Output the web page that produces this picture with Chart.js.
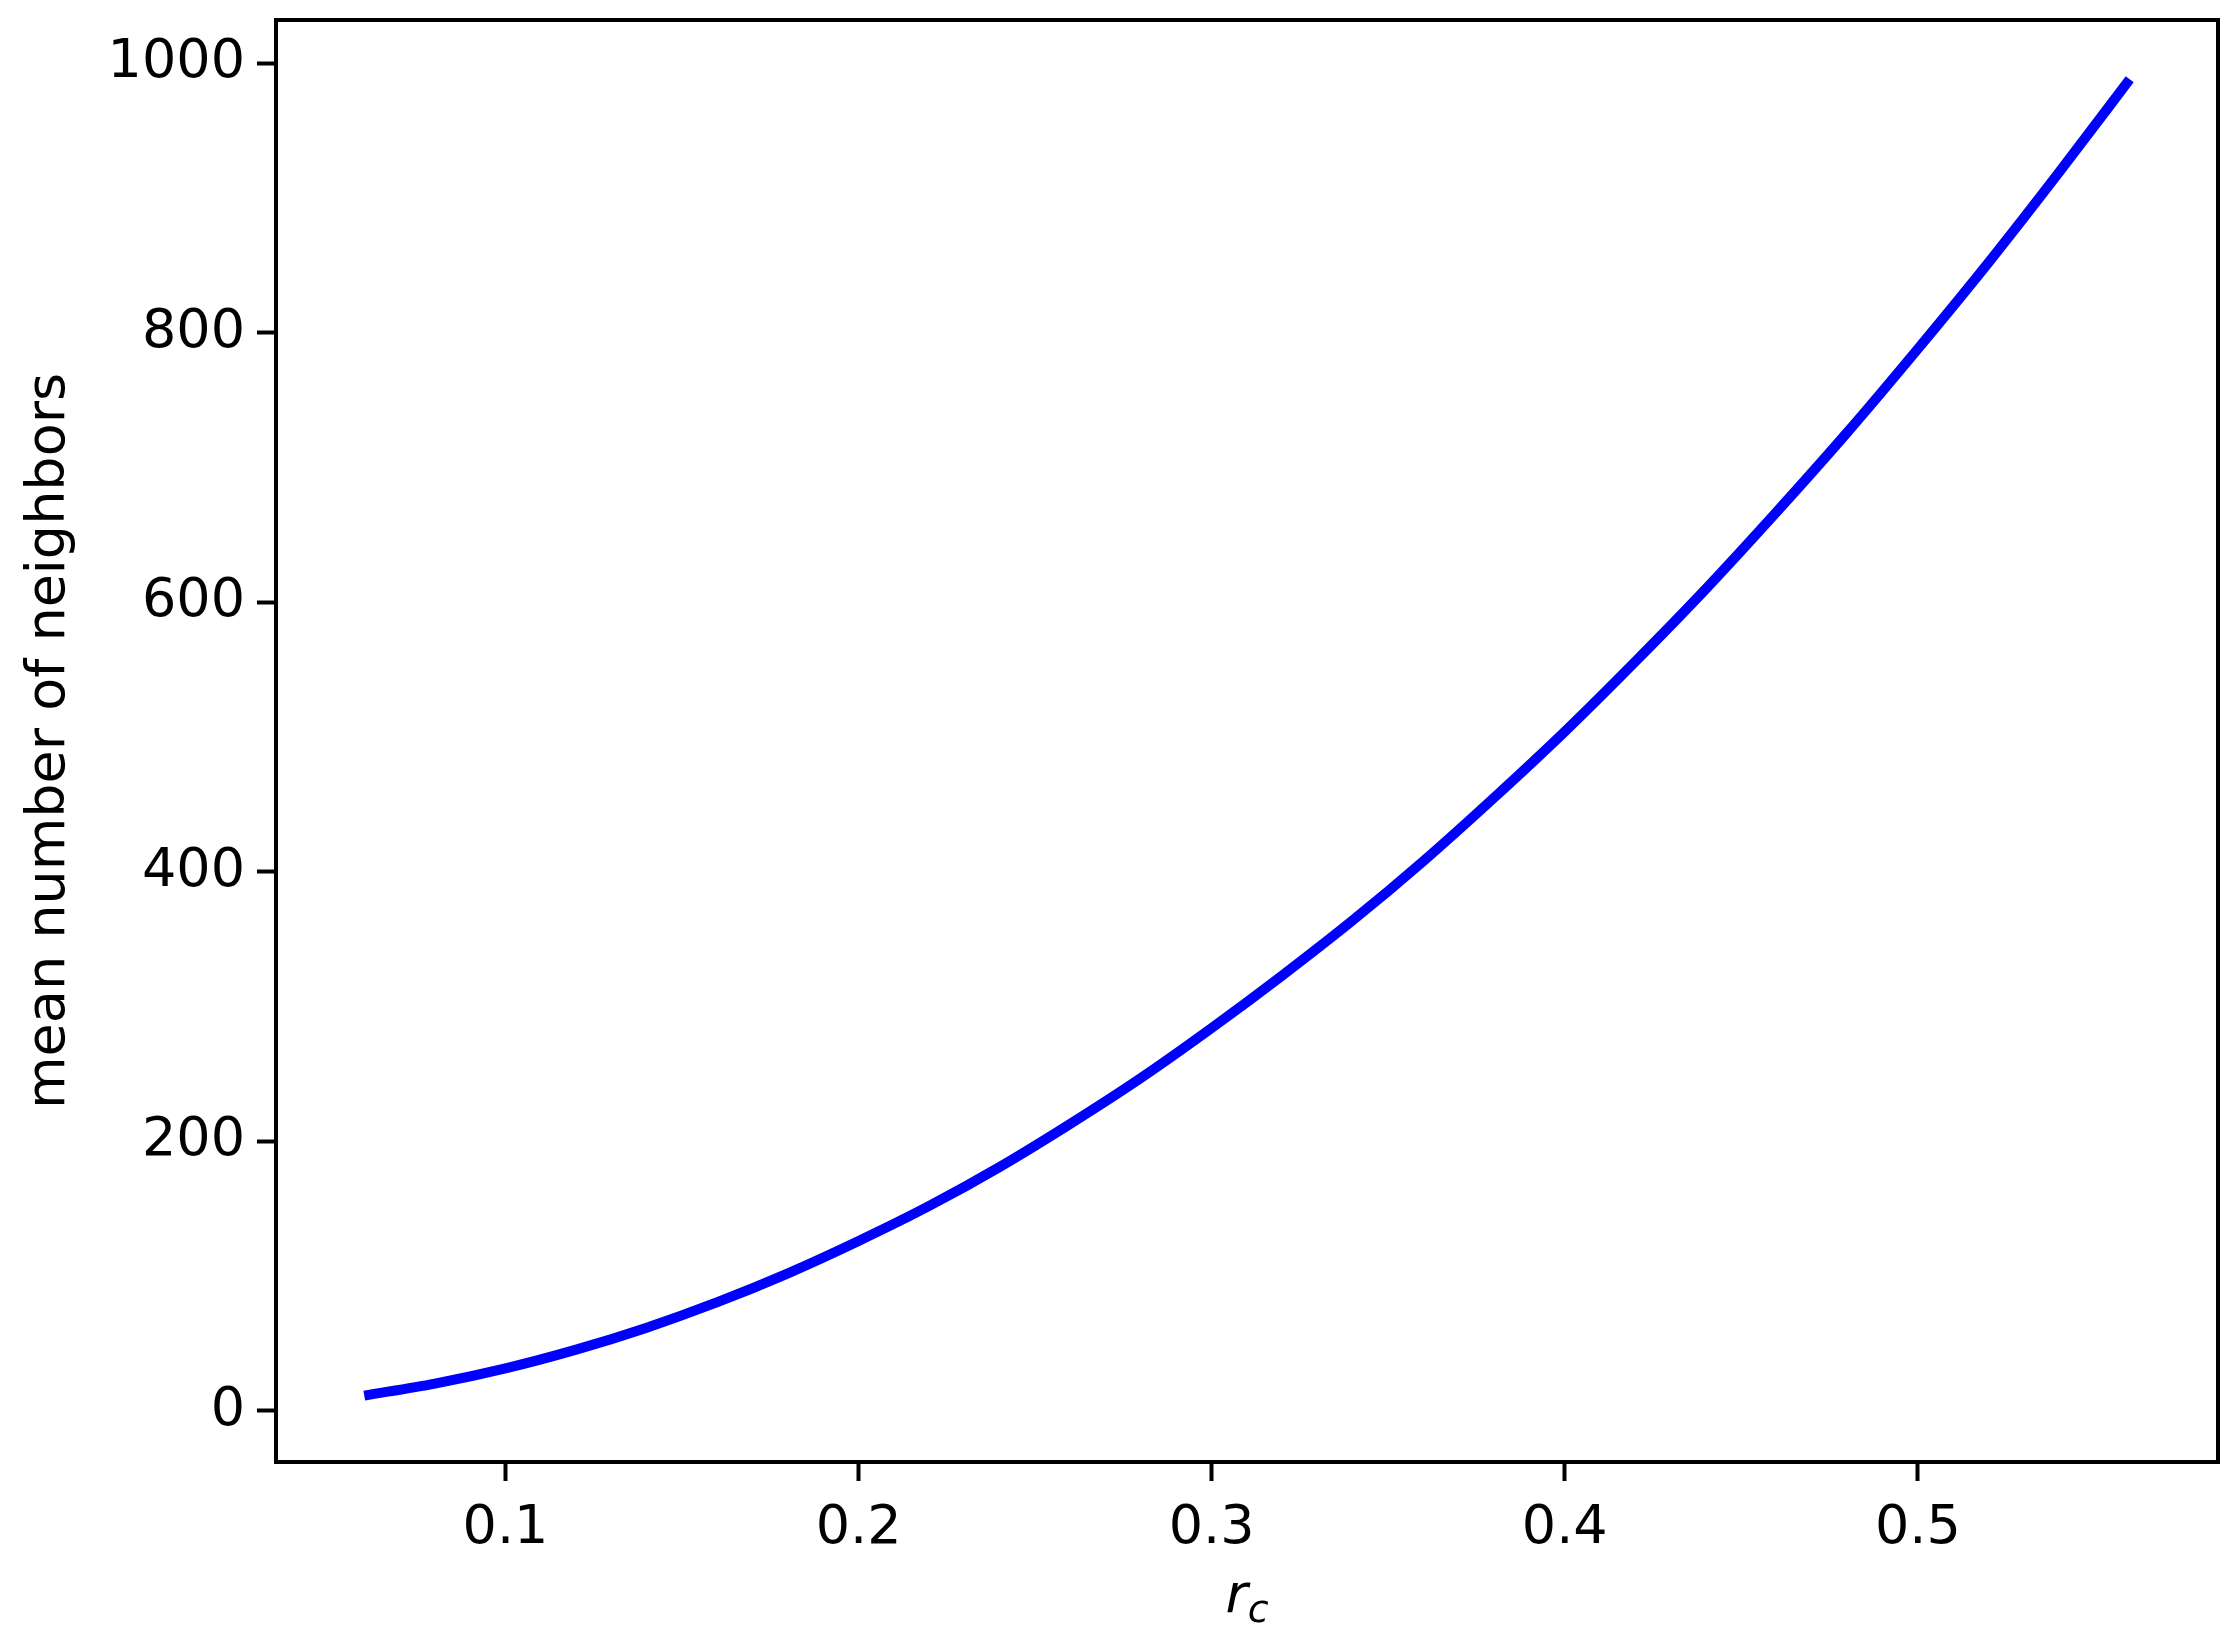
<!DOCTYPE html>
<html>
<head>
<meta charset="utf-8">
<script src="https://cdn.jsdelivr.net/npm/chart.js@4/dist/chart.umd.min.js"></script>
<style>
  html, body { margin: 0; padding: 0; background: #fff; }
  canvas { display: block; }
</style>
</head>
<body>
<canvas id="grafico" width="2239" height="1645"></canvas>
<script>
// valores
const rc = [0.06, 0.08, 0.10, 0.12, 0.14, 0.16, 0.18, 0.20, 0.22, 0.24, 0.26, 0.28, 0.30,
            0.32, 0.34, 0.36, 0.38, 0.40, 0.42, 0.44, 0.46, 0.48, 0.50, 0.52, 0.54, 0.56];
const vizinhos = [11.3, 20.2, 31.5, 45.4, 61.7, 80.6, 102, 126, 152, 181, 213, 247, 284,
                  323, 364, 408, 455, 504, 556, 610, 667, 726, 788, 852, 919, 988];
const xTicks = [0.1, 0.2, 0.3, 0.4, 0.5];
const yTicks = [0, 200, 400, 600, 800, 1000];
const yTitulo = "mean number of neighbors";

const FONTE = "DejaVu Sans";
const TAM = 54;

// moldura (spines) e títulos dos eixos
const molduraPlugin = {
    id: 'moldura',
    afterDraw(chart) {
        const ctx = chart.ctx;
        const a = chart.chartArea;
        ctx.save();
        ctx.strokeStyle = '#000';
        ctx.lineWidth = 4;
        ctx.strokeRect(a.left, a.top, a.right - a.left, a.bottom - a.top);

        ctx.fillStyle = '#000';
        // título do eixo y
        ctx.translate(50, (a.top + a.bottom) / 2);
        ctx.rotate(-Math.PI / 2);
        ctx.font = TAM + "px '" + FONTE + "'";
        ctx.textAlign = 'center';
        ctx.textBaseline = 'middle';
        ctx.fillText(yTitulo, 0, 0);
        ctx.restore();

        // título do eixo x: r com subscrito c
        ctx.save();
        ctx.fillStyle = '#000';
        ctx.textBaseline = 'alphabetic';
        const cx = (a.left + a.right) / 2;
        ctx.font = "italic " + TAM + "px '" + FONTE + "'";
        const wr = ctx.measureText("r").width;
        ctx.font = "italic " + Math.round(TAM * 0.7) + "px '" + FONTE + "'";
        const wc = ctx.measureText("c").width;
        const x0 = cx - (wr + wc) / 2;
        const base = 1612;
        ctx.font = "italic " + TAM + "px '" + FONTE + "'";
        ctx.fillText("r", x0, base);
        ctx.font = "italic " + Math.round(TAM * 0.7) + "px '" + FONTE + "'";
        ctx.fillText("c", x0 + wr, base + 10);
        ctx.restore();
    }
};

const ctx = document.getElementById('grafico').getContext('2d');
new Chart(ctx, {
    type: 'line',
    data: {
        datasets: [{
            data: rc.map((v, i) => ({ x: v, y: vizinhos[i] })),
            borderColor: '#0000ff',
            borderWidth: 10,
            pointRadius: 0,
            fill: false,
            cubicInterpolationMode: 'monotone'
        }]
    },
    options: {
        responsive: false,
        animation: false,
        devicePixelRatio: 1,
        layout: { padding: { top: 20, right: 21, left: 0, bottom: 0 } },
        plugins: { legend: { display: false }, tooltip: { enabled: false } },
        scales: {
            x: {
                type: 'linear',
                min: 0.035,
                max: 0.585,
                afterBuildTicks: s => { s.ticks = xTicks.map(v => ({ value: v })); },
                afterFit: s => { s.height = 183; s.paddingLeft = 0; s.paddingRight = 0; },
                grid: { drawOnChartArea: false, drawTicks: true, tickLength: 19, tickWidth: 4, tickColor: '#000' },
                border: { display: true, color: '#000', width: 4 },
                ticks: {
                    color: '#000',
                    padding: 16,
                    maxRotation: 0,
                    font: { family: FONTE, size: TAM },
                    callback: v => v.toFixed(1)
                }
            },
            y: {
                type: 'linear',
                min: -38,
                max: 1032,
                afterBuildTicks: s => { s.ticks = yTicks.map(v => ({ value: v })); },
                afterFit: s => { s.width = 276; s.paddingTop = 0; s.paddingBottom = 0; },
                grid: { drawOnChartArea: false, drawTicks: true, tickLength: 19, tickWidth: 4, tickColor: '#000' },
                border: { display: true, color: '#000', width: 4 },
                ticks: {
                    color: '#000',
                    padding: 12,
                    font: { family: FONTE, size: TAM },
                    callback: v => String(v)
                }
            }
        }
    },
    plugins: [molduraPlugin]
});
</script>
</body>
</html>
